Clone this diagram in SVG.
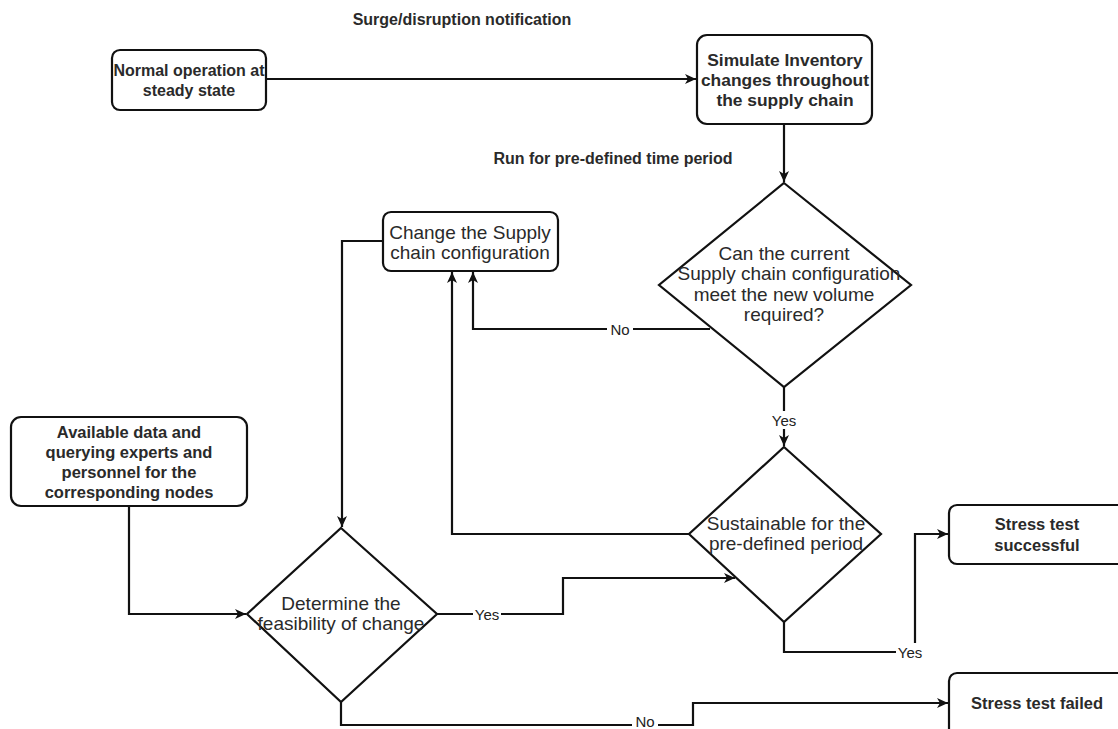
<svg xmlns="http://www.w3.org/2000/svg" width="1118" height="729" viewBox="0 0 1118 729">
<style>
.box{fill:#fff;stroke:#111;stroke-width:2.2}
.t{font-family:"Liberation Sans",Arial,sans-serif;font-size:19px;fill:#2a2a2a;text-anchor:middle;dominant-baseline:central}
.b{font-weight:bold;font-size:16.5px}
.e{fill:none;stroke:#111;stroke-width:2.2}
.lbl{font-family:"Liberation Sans",Arial,sans-serif;font-size:15px;fill:#222;text-anchor:middle;dominant-baseline:central}
.bg{fill:#fff}
</style>
<defs>
<marker id="arr" markerUnits="userSpaceOnUse" markerWidth="12" markerHeight="10" refX="11" refY="5" orient="auto">
<path d="M0,0 L11,5 L0,10 L3,5 z" fill="#111"/>
</marker>
</defs>
<rect width="1118" height="729" fill="#fff"/>
<g id="connectors">
<path class="e" d="M266,79 L696,79" marker-end="url(#arr)"/>
<path class="e" d="M784,124 L784,182" marker-end="url(#arr)"/>
<path class="e" d="M710,329 L473,329 L473,272" marker-end="url(#arr)"/>
<path class="e" d="M689,534 L452,534 L452,272" marker-end="url(#arr)"/>
<path class="e" d="M784,387 L784,446" marker-end="url(#arr)"/>
<path class="e" d="M383,241 L342,241 L342,527" marker-end="url(#arr)"/>
<path class="e" d="M129,506 L129,614 L246,614" marker-end="url(#arr)"/>
<path class="e" d="M437,614 L563,614 L563,578 L735,578" marker-end="url(#arr)"/>
<path class="e" d="M784,622 L784,652 L915,652 L915,534 L948,534" marker-end="url(#arr)"/>
<path class="e" d="M341,702 L341,725 L693,725 L693,703 L948,703" marker-end="url(#arr)"/>
<text class="t b" x="462" y="19" style="font-size:16px">Surge/disruption notification</text>
<text class="t b" x="613" y="158" style="font-size:16px">Run for pre-defined time period</text>
<rect class="bg" x="607" y="320" width="26" height="18"/>
<text class="lbl" x="620" y="329">No</text>
<rect class="bg" x="770" y="411" width="28" height="18"/>
<text class="lbl" x="784" y="420">Yes</text>
<rect class="bg" x="473" y="605" width="28" height="18"/>
<text class="lbl" x="487" y="614">Yes</text>
<rect class="bg" x="896" y="643" width="28" height="18"/>
<text class="lbl" x="910" y="652">Yes</text>
<rect class="bg" x="632" y="716" width="26" height="13"/>
<text class="lbl" x="645" y="721">No</text>
</g>
<g id="normal">
<rect class="box" x="112" y="50" width="154" height="60" rx="8"/>
<text class="t b" x="189" y="70" style="font-size:16px">Normal operation at</text>
<text class="t b" x="189" y="90" style="font-size:16px">steady state</text>
</g>
<g id="simulate">
<rect class="box" x="697" y="35" width="175" height="89" rx="10"/>
<text class="t b" x="785" y="60" style="font-size:17.4px">Simulate Inventory</text>
<text class="t b" x="785" y="80" style="font-size:17.4px">changes throughout</text>
<text class="t b" x="785" y="100" style="font-size:17.4px">the supply chain</text>
</g>
<g id="canmeet">
<polygon class="box" points="784,183 911,285 784,387 659,285"/>
<text class="t" x="784" y="253">Can the current</text>
<text class="t" x="789" y="273">Supply chain configuration</text>
<text class="t" x="784" y="294">meet the new volume</text>
<text class="t" x="784" y="314">required?</text>
</g>
<g id="change">
<rect class="box" x="383" y="212" width="175" height="59" rx="8"/>
<text class="t" x="470" y="232">Change the Supply</text>
<text class="t" x="470" y="252">chain configuration</text>
</g>
<g id="sustainable">
<polygon class="box" points="784,447 881,534 784,622 689,534"/>
<text class="t" x="786" y="523">Sustainable for the</text>
<text class="t" x="786" y="543">pre-defined period</text>
</g>
<g id="available">
<rect class="box" x="11" y="417" width="236" height="89" rx="10"/>
<text class="t b" x="129" y="432">Available data and</text>
<text class="t b" x="129" y="452">querying experts and</text>
<text class="t b" x="129" y="472">personnel for the</text>
<text class="t b" x="129" y="492">corresponding nodes</text>
</g>
<g id="determine">
<polygon class="box" points="341,528 437,614 341,702 247,614"/>
<text class="t" x="341" y="603">Determine the</text>
<text class="t" x="341" y="623">feasibility of change</text>
</g>
<g id="success">
<rect class="box" x="949" y="505" width="180" height="59" rx="8"/>
<text class="t b" x="1037" y="524">Stress test</text>
<text class="t b" x="1037" y="545">successful</text>
</g>
<g id="failed">
<rect class="box" x="949" y="673" width="180" height="70" rx="8"/>
<text class="t b" x="1037" y="703">Stress test failed</text>
</g>
</svg>
